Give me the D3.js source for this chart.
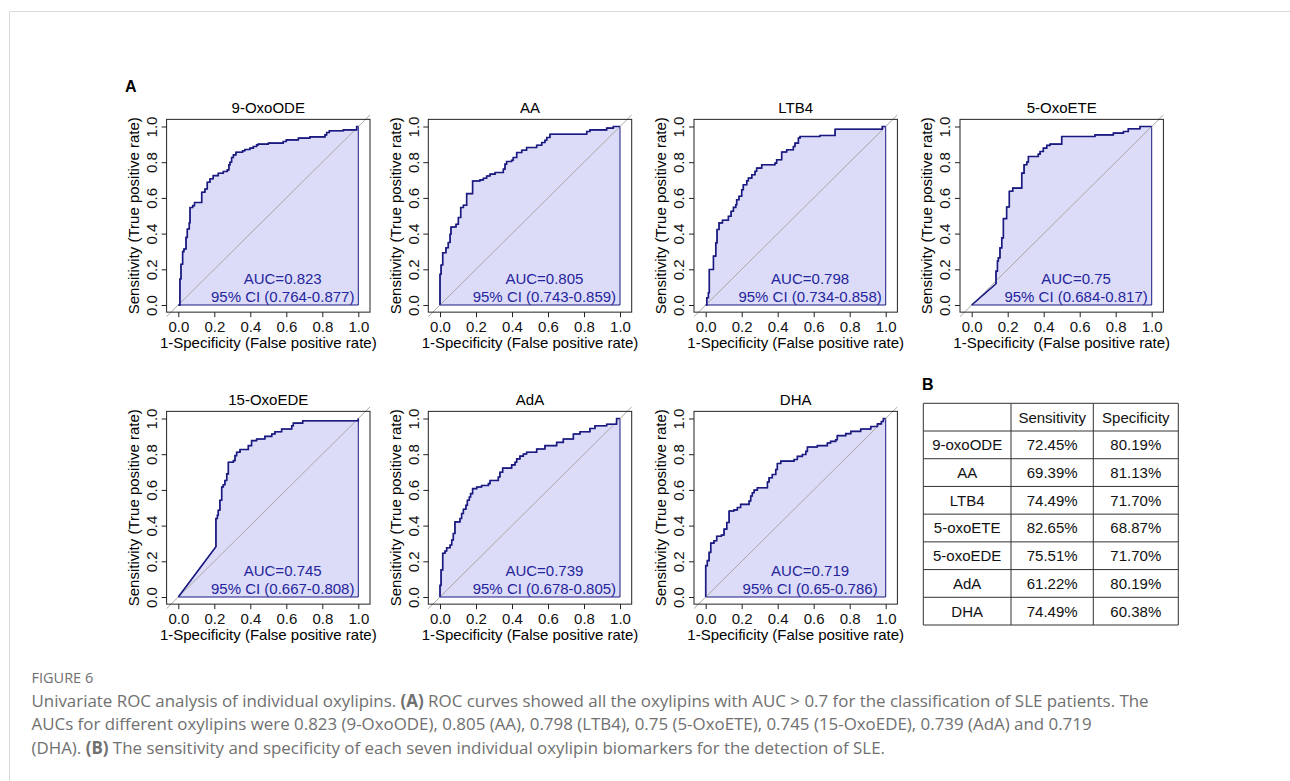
<!DOCTYPE html>
<html>
<head>
<meta charset="utf-8">
<script src="https://cdn.jsdelivr.net/npm/d3@7"></script>
<style>
  body { margin: 0; background: #fff; }
  svg { display: block; }
</style>
</head>
<body>
<div id="chart"></div>
<script>
// Panel names, AUC and confidence intervals (panel A)
const panelNames = ["9-OxoODE", "AA", "LTB4", "5-OxoETE", "15-OxoEDE", "AdA", "DHA"];
const aucValues = ["0.823", "0.805", "0.798", "0.75", "0.745", "0.739", "0.719"];
const ciValues = ["0.764-0.877", "0.743-0.859", "0.734-0.858", "0.684-0.817", "0.667-0.808", "0.678-0.805", "0.65-0.786"];
const tickValues = [0, 0.2, 0.4, 0.6, 0.8, 1.0];

// ROC points [1-specificity, sensitivity]
const roc9OxoODE = [[0,0],[0.009,0],[0.009,0.146],[0.015,0.146],[0.015,0.228],[0.024,0.228],[0.024,0.299],[0.031,0.299],[0.031,0.314],
  [0.043,0.314],[0.043,0.379],[0.05,0.379],[0.05,0.426],[0.061,0.426],[0.061,0.46],[0.065,0.46],[0.065,0.546],[0.08,0.546],[0.08,0.557],
  [0.09,0.557],[0.09,0.574],[0.13,0.574],[0.13,0.632],[0.148,0.632],[0.148,0.65],[0.161,0.65],[0.161,0.688],[0.176,0.688],[0.176,0.707],
  [0.194,0.707],[0.194,0.725],[0.222,0.725],[0.222,0.738],[0.25,0.738],[0.25,0.748],[0.272,0.748],[0.272,0.757],[0.281,0.757],[0.281,0.785],
  [0.287,0.785],[0.287,0.8],[0.296,0.8],[0.296,0.826],[0.306,0.826],[0.306,0.841],[0.32,0.841],[0.32,0.856],[0.357,0.856],[0.357,0.864],
  [0.37,0.864],[0.37,0.871],[0.398,0.871],[0.398,0.879],[0.417,0.879],[0.417,0.888],[0.435,0.888],[0.435,0.897],[0.444,0.897],[0.444,0.901],
  [0.5,0.901],[0.5,0.907],[0.583,0.907],[0.583,0.916],[0.6,0.916],[0.6,0.925],[0.667,0.925],[0.667,0.935],[0.731,0.935],[0.731,0.942],
  [0.815,0.942],[0.815,0.953],[0.824,0.953],[0.824,0.966],[0.839,0.966],[0.839,0.976],[0.917,0.976],[0.917,0.981],[0.991,0.981],[0.991,1],[1,1]];
const rocAA = [[0,0],[0,0.172],[0.006,0.172],[0.006,0.224],[0.015,0.224],[0.015,0.293],[0.033,0.293],[0.033,0.321],[0.046,0.321],[0.046,0.35],
  [0.056,0.35],[0.056,0.396],[0.061,0.396],[0.061,0.437],[0.089,0.437],[0.089,0.452],[0.102,0.452],[0.102,0.49],[0.115,0.49],[0.115,0.546],
  [0.13,0.546],[0.13,0.559],[0.148,0.559],[0.148,0.624],[0.181,0.624],[0.181,0.695],[0.222,0.695],[0.222,0.701],[0.241,0.701],[0.241,0.71],
  [0.259,0.71],[0.259,0.723],[0.278,0.723],[0.278,0.733],[0.306,0.733],[0.306,0.742],[0.352,0.742],[0.352,0.761],[0.361,0.761],[0.361,0.789],
  [0.37,0.789],[0.37,0.804],[0.398,0.804],[0.398,0.811],[0.407,0.811],[0.407,0.826],[0.426,0.826],[0.426,0.854],[0.454,0.854],[0.454,0.867],
  [0.481,0.867],[0.481,0.882],[0.537,0.882],[0.537,0.895],[0.565,0.895],[0.565,0.91],[0.583,0.91],[0.583,0.923],[0.593,0.923],[0.593,0.938],
  [0.611,0.938],[0.611,0.957],[0.815,0.957],[0.815,0.972],[0.833,0.972],[0.833,0.981],[0.926,0.981],[0.926,0.991],[0.963,0.991],[0.963,1],[1,1]];
const rocLTB4 = [[0,0],[0.006,0],[0.006,0.041],[0.015,0.041],[0.015,0.069],[0.02,0.069],[0.02,0.199],[0.043,0.199],[0.043,0.274],[0.056,0.274],
  [0.056,0.348],[0.063,0.348],[0.063,0.423],[0.074,0.423],[0.074,0.46],[0.093,0.46],[0.093,0.475],[0.126,0.475],[0.126,0.497],[0.141,0.497],
  [0.141,0.525],[0.154,0.525],[0.154,0.547],[0.167,0.547],[0.167,0.562],[0.172,0.562],[0.172,0.59],[0.185,0.59],[0.185,0.609],[0.2,0.609],
  [0.2,0.646],[0.209,0.646],[0.209,0.674],[0.228,0.674],[0.228,0.696],[0.237,0.696],[0.237,0.711],[0.256,0.711],[0.256,0.73],[0.274,0.73],
  [0.274,0.749],[0.283,0.749],[0.283,0.767],[0.311,0.767],[0.311,0.786],[0.385,0.786],[0.385,0.795],[0.394,0.795],[0.394,0.814],[0.422,0.814],
  [0.422,0.857],[0.45,0.857],[0.45,0.87],[0.487,0.87],[0.487,0.888],[0.496,0.888],[0.496,0.907],[0.515,0.907],[0.515,0.935],[0.524,0.935],
  [0.524,0.944],[0.635,0.944],[0.635,0.95],[0.719,0.95],[0.719,0.985],[0.981,0.985],[0.981,1],[1,1]];
const roc5OxoETE = [[0,0],[0.135,0.119],[0.135,0.19],[0.143,0.19],[0.143,0.246],[0.148,0.246],[0.148,0.264],[0.157,0.264],[0.157,0.32],
  [0.167,0.32],[0.167,0.376],[0.176,0.376],[0.176,0.484],[0.194,0.484],[0.194,0.549],[0.209,0.549],[0.209,0.637],[0.228,0.637],[0.228,0.655],
  [0.278,0.655],[0.278,0.739],[0.291,0.739],[0.291,0.786],[0.306,0.786],[0.306,0.801],[0.315,0.801],[0.315,0.832],[0.37,0.832],[0.37,0.845],
  [0.38,0.845],[0.38,0.86],[0.398,0.86],[0.398,0.879],[0.417,0.879],[0.417,0.894],[0.435,0.894],[0.435,0.901],[0.5,0.901],[0.5,0.944],
  [0.685,0.944],[0.685,0.953],[0.787,0.953],[0.787,0.963],[0.843,0.963],[0.843,0.972],[0.87,0.972],[0.87,0.987],[0.935,0.987],[0.935,1],[1,1]];
const roc15OxoEDE = [[0,0],[0.209,0.282],[0.209,0.44],[0.217,0.44],[0.217,0.458],[0.222,0.458],[0.222,0.486],[0.231,0.486],[0.231,0.542],
  [0.241,0.542],[0.241,0.616],[0.25,0.616],[0.25,0.629],[0.259,0.629],[0.259,0.653],[0.269,0.653],[0.269,0.69],[0.278,0.69],[0.278,0.755],
  [0.306,0.755],[0.306,0.764],[0.315,0.764],[0.315,0.792],[0.324,0.792],[0.324,0.811],[0.343,0.811],[0.343,0.826],[0.389,0.826],[0.389,0.848],
  [0.407,0.848],[0.407,0.876],[0.435,0.876],[0.435,0.885],[0.481,0.885],[0.481,0.9],[0.519,0.9],[0.519,0.913],[0.537,0.913],[0.537,0.926],
  [0.574,0.926],[0.574,0.941],[0.63,0.941],[0.63,0.959],[0.639,0.959],[0.639,0.974],[0.691,0.974],[0.691,0.987],[1,0.987],[1,1]];
const rocAdA = [[0,0],[0,0.065],[0.006,0.065],[0.006,0.152],[0.015,0.152],[0.015,0.245],[0.028,0.245],[0.028,0.258],[0.037,0.258],[0.037,0.276],
  [0.056,0.276],[0.056,0.291],[0.065,0.291],[0.065,0.319],[0.074,0.319],[0.074,0.356],[0.083,0.356],[0.083,0.421],[0.111,0.421],[0.111,0.44],
  [0.12,0.44],[0.12,0.468],[0.13,0.468],[0.13,0.492],[0.144,0.492],[0.144,0.514],[0.152,0.514],[0.152,0.542],[0.163,0.542],[0.163,0.56],
  [0.17,0.56],[0.17,0.579],[0.181,0.579],[0.181,0.607],[0.204,0.607],[0.204,0.616],[0.231,0.616],[0.231,0.625],[0.269,0.625],[0.269,0.635],
  [0.278,0.635],[0.278,0.653],[0.324,0.653],[0.324,0.672],[0.333,0.672],[0.333,0.699],[0.348,0.699],[0.348,0.722],[0.398,0.722],[0.398,0.74],
  [0.417,0.74],[0.417,0.755],[0.426,0.755],[0.426,0.774],[0.444,0.774],[0.444,0.789],[0.463,0.789],[0.463,0.801],[0.481,0.801],[0.481,0.811],
  [0.537,0.811],[0.537,0.829],[0.583,0.829],[0.583,0.848],[0.648,0.848],[0.648,0.866],[0.685,0.866],[0.685,0.885],[0.741,0.885],[0.741,0.913],
  [0.778,0.913],[0.778,0.926],[0.833,0.926],[0.833,0.944],[0.861,0.944],[0.861,0.959],[0.926,0.959],[0.926,0.968],[0.981,0.968],[0.981,1],[1,1]];
const rocDHA = [[0,0],[0,0.176],[0.009,0.176],[0.009,0.204],[0.019,0.204],[0.019,0.25],[0.028,0.25],[0.028,0.302],[0.046,0.302],[0.046,0.315],
  [0.061,0.315],[0.061,0.34],[0.087,0.34],[0.087,0.347],[0.102,0.347],[0.102,0.38],[0.117,0.38],[0.117,0.417],[0.13,0.417],[0.13,0.482],
  [0.157,0.482],[0.157,0.488],[0.176,0.488],[0.176,0.501],[0.194,0.501],[0.194,0.519],[0.241,0.519],[0.241,0.538],[0.25,0.538],[0.25,0.566],
  [0.259,0.566],[0.259,0.584],[0.269,0.584],[0.269,0.599],[0.287,0.599],[0.287,0.612],[0.343,0.612],[0.343,0.644],[0.352,0.644],[0.352,0.668],
  [0.37,0.668],[0.37,0.686],[0.389,0.686],[0.389,0.714],[0.398,0.714],[0.398,0.748],[0.417,0.748],[0.417,0.761],[0.491,0.761],[0.491,0.77],
  [0.509,0.77],[0.509,0.788],[0.537,0.788],[0.537,0.798],[0.556,0.798],[0.556,0.816],[0.565,0.816],[0.565,0.84],[0.62,0.84],[0.62,0.848],
  [0.676,0.848],[0.676,0.863],[0.694,0.863],[0.694,0.872],[0.722,0.872],[0.722,0.881],[0.731,0.881],[0.731,0.904],[0.778,0.904],[0.778,0.915],
  [0.806,0.915],[0.806,0.928],[0.861,0.928],[0.861,0.941],[0.917,0.941],[0.917,0.955],[0.954,0.955],[0.954,0.97],[0.976,0.97],[0.976,0.983],
  [0.987,0.983],[0.987,1],[1,1]];
const rocCurves = [roc9OxoODE, rocAA, rocLTB4, roc5OxoETE, roc15OxoEDE, rocAdA, rocDHA];

// Table (panel B)
const tableHeader = ["", "Sensitivity", "Specificity"];
const tableNames = ["9-oxoODE", "AA", "LTB4", "5-oxoETE", "5-oxoEDE", "AdA", "DHA"];
const sensitivityValues = ["72.45%", "69.39%", "74.49%", "82.65%", "75.51%", "61.22%", "74.49%"];
const specificityValues = ["80.19%", "81.13%", "71.70%", "68.87%", "71.70%", "80.19%", "60.38%"];

// Layout
const W = 1290, H = 781;
const colX = [178.3, 440, 705.7, 971.7];  // pixel position of fpr = 0
const rowY = [305, 597];                  // pixel position of tpr = 0
const spanX = 180, spanY = 178.5;
const curveColor = "#1a1a80", textBlue = "#25259c", fillColor = "#dcdcf9";

const svg = d3.select("#chart").append("svg")
    .attr("width", W)
    .attr("height", H)
    .style("font-family", "'Liberation Sans', Arial, sans-serif");

// page frame
svg.append("path")
    .attr("d", "M9.5,781V11.5H1290")
    .attr("fill", "none")
    .attr("stroke", "#dadada");

svg.append("text").attr("x", 125).attr("y", 92)
    .attr("font-size", 16).attr("font-weight", "bold").text("A");
svg.append("text").attr("x", 922).attr("y", 390)
    .attr("font-size", 16).attr("font-weight", "bold").text("B");

const line = d3.line();

panelNames.forEach((name, i) => {
    const col = i < 4 ? i : i - 4, row = i < 4 ? 0 : 1;
    const x = d3.scaleLinear().domain([0, 1]).range([colX[col], colX[col] + spanX]);
    const y = d3.scaleLinear().domain([0, 1]).range([rowY[row], rowY[row] - spanY]);
    line.x(d => x(d[0])).y(d => y(d[1]));

    const left = x(-0.065), right = x(1.065), top = y(1.04), bottom = y(-0.04);
    const g = svg.append("g");

    // shaded AUC polygon
    g.append("path")
        .datum([...rocCurves[i], [1, 0]])
        .attr("d", d => line(d) + "Z")
        .attr("fill", fillColor)
        .attr("stroke", curveColor)
        .attr("stroke-width", 1);

    // chance diagonal
    g.append("line")
        .attr("x1", x(-0.065)).attr("y1", y(-0.065))
        .attr("x2", x(1.065)).attr("y2", y(1.065))
        .attr("stroke", "#a8a8a8");

    // ROC curve
    g.append("path")
        .datum(rocCurves[i])
        .attr("d", line)
        .attr("fill", "none")
        .attr("stroke", curveColor)
        .attr("stroke-width", 1.6);

    // box
    g.append("rect")
        .attr("x", left).attr("y", top)
        .attr("width", right - left).attr("height", bottom - top)
        .attr("fill", "none")
        .attr("stroke", "#222");

    // axes
    const xAxis = g.append("g")
        .attr("transform", `translate(0,${bottom})`)
        .call(d3.axisBottom(x).tickValues(tickValues).tickFormat(d3.format(".1f")).tickSize(5).tickPadding(4));
    const yAxis = g.append("g")
        .attr("transform", `translate(${left},0)`)
        .call(d3.axisLeft(y).tickValues(tickValues).tickFormat(d3.format(".1f")).tickSize(5));
    [xAxis, yAxis].forEach(a => {
        a.select(".domain").remove();
        a.attr("font-family", null).attr("font-size", 15);
        a.selectAll("line").attr("stroke", "#222");
        a.selectAll("text").attr("fill", "#111");
    });
    yAxis.selectAll("text")
        .attr("transform", "rotate(-90)")
        .attr("x", 0).attr("y", -15)
        .attr("dy", "0.35em")
        .attr("text-anchor", "middle");

    // titles
    g.append("text")
        .attr("x", (left + right) / 2).attr("y", top - 6.5)
        .attr("text-anchor", "middle").attr("font-size", 15)
        .text(name);
    g.append("text")
        .attr("x", (left + right) / 2).attr("y", bottom + 36)
        .attr("text-anchor", "middle").attr("font-size", 15)
        .text("1-Specificity (False positive rate)");
    g.append("text")
        .attr("transform", `translate(${left - 33},${(top + bottom) / 2}) rotate(-90)`)
        .attr("dy", "0.35em")
        .attr("text-anchor", "middle").attr("font-size", 15)
        .text("Sensitivity (True positive rate)");

    // AUC labels
    g.append("text")
        .attr("x", x(0.58)).attr("y", y(0.12))
        .attr("text-anchor", "middle").attr("font-size", 15).attr("fill", textBlue)
        .text("AUC=" + aucValues[i]);
    g.append("text")
        .attr("x", x(0.58)).attr("y", y(0.015))
        .attr("text-anchor", "middle").attr("font-size", 15).attr("fill", textBlue)
        .text("95% CI (" + ciValues[i] + ")");
});

// ---- Table B ----
const colEdges = [923.3, 1011, 1093.3, 1178.3];
const rows = d3.scaleBand()
    .domain(["header", ...tableNames])
    .range([403.3, 625]);
const tbl = svg.append("g").attr("font-size", 15);

rows.domain().forEach(r => {
    tbl.append("line")
        .attr("x1", colEdges[0]).attr("x2", colEdges[3])
        .attr("y1", rows(r)).attr("y2", rows(r))
        .attr("stroke", "#333");
});
tbl.append("line")
    .attr("x1", colEdges[0]).attr("x2", colEdges[3])
    .attr("y1", 625).attr("y2", 625)
    .attr("stroke", "#333");
colEdges.forEach(cx => {
    tbl.append("line")
        .attr("x1", cx).attr("x2", cx)
        .attr("y1", 403.3).attr("y2", 625)
        .attr("stroke", "#333");
});

const tableData = [tableHeader, ...tableNames.map((n, i) => [n, sensitivityValues[i], specificityValues[i]])];
tableData.forEach((cells, ri) => {
    const key = rows.domain()[ri];
    cells.forEach((c, ci) => {
        tbl.append("text")
            .attr("x", (colEdges[ci] + colEdges[ci + 1]) / 2)
            .attr("y", rows(key) + rows.bandwidth() / 2)
            .attr("dy", "0.36em")
            .attr("text-anchor", "middle")
            .attr("fill", "#111")
            .text(c);
    });
});

// ---- Caption ----
const cap = svg.append("g")
    .style("font-family", "'Open Sans', 'Noto Sans', sans-serif")
    .attr("fill", "#707070");
cap.append("text").attr("x", 31.5).attr("y", 683).attr("font-size", 14.5).text("FIGURE 6");

const captionLines = [
    [["Univariate ROC analysis of individual oxylipins. ", false], ["(A)", true], [" ROC curves showed all the oxylipins with AUC > 0.7 for the classification of SLE patients. The", false]],
    [["AUCs for different oxylipins were 0.823 (9-OxoODE), 0.805 (AA), 0.798 (LTB4), 0.75 (5-OxoETE), 0.745 (15-OxoEDE), 0.739 (AdA) and 0.719", false]],
    [["(DHA). ", false], ["(B)", true], [" The sensitivity and specificity of each seven individual oxylipin biomarkers for the detection of SLE.", false]]
];
captionLines.forEach((parts, li) => {
    const t = cap.append("text")
        .attr("x", 31.5).attr("y", 707 + li * 23.3)
        .attr("font-size", 16.9);
    parts.forEach(([s, bold]) => {
        t.append("tspan").attr("font-weight", bold ? "bold" : null).text(s);
    });
});
</script>
</body>
</html>
